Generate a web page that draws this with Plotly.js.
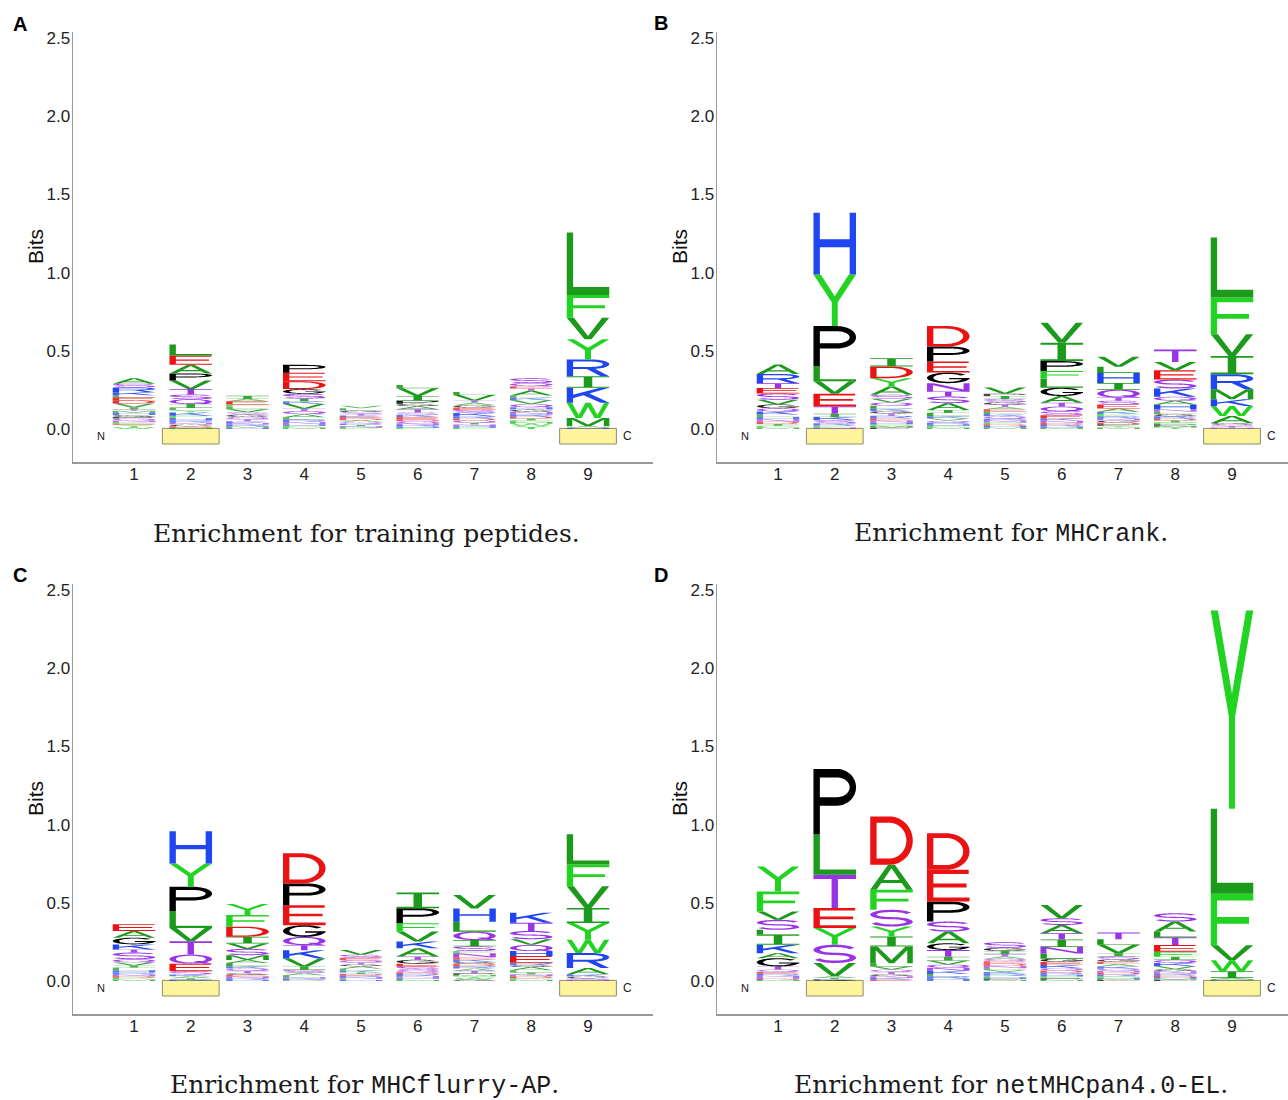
<!DOCTYPE html>
<html><head><meta charset="utf-8">
<script src="https://cdn.plot.ly/plotly-3.0.1.min.js"></script>
<style>html,body{margin:0;padding:0;background:#fff}</style>
</head><body><div id="chart" style="width:1288px;height:1100px"></div>
<script>
// ---------------- DATA (letters listed top -> bottom, heights in bits) ----------------
const positions = [1,2,3,4,5,6,7,8,9];
const anchorPositions = [2, 9];
const yTickVals = [0, 0.5, 1.0, 1.5, 2.0, 2.5];
const yTickText = ['0.0','0.5','1.0','1.5','2.0','2.5'];
const panelLabels = ['A','B','C','D'];
const yTitle = 'Bits';
const panelTitles = [
  'Enrichment for training peptides.',
  'Enrichment for <span style="font-family:Liberation Mono">MHCrank</span>.',
  'Enrichment for <span style="font-family:Liberation Mono">MHCflurry-AP</span>.',
  'Enrichment for <span style="font-family:Liberation Mono">netMHCpan4.0-EL</span>.'
];

const lettersA = ["ASRKLEDVITMHGPQNFEYW","LEAPVTSQILYKFHRNGDM","IAEFLVSGQTKNRMH","PEDGSIKVTQALRNHFM","VLGSTKEDAQRINF","LVIPGATSKEDQNRHF","LVTAGESKRDQINHF","SQETALKVQHGNRDIFMWY","LFVYRIKWMAH"];
const heightsA = [
  [.035,.025,.03,.02,.012,.02,.02,.025,.012,.01,.012,.015,.012,.01,.012,.01,.01,.008,.015,.012],
  [.07,.06,.055,.045,.055,.035,.03,.03,.025,.015,.015,.02,.015,.015,.015,.012,.01,.01,.008],
  [.02,.015,.02,.015,.015,.02,.015,.015,.015,.012,.012,.01,.01,.01,.008],
  [.05,.055,.05,.03,.03,.02,.015,.03,.015,.02,.02,.015,.015,.015,.01,.01,.01],
  [.015,.015,.01,.012,.01,.01,.01,.01,.012,.01,.008,.008,.01,.008],
  [.02,.05,.03,.02,.015,.02,.02,.015,.015,.015,.01,.015,.01,.01,.008,.008],
  [.02,.035,.015,.015,.015,.015,.02,.02,.015,.012,.015,.012,.01,.01,.008],
  [.03,.02,.015,.015,.03,.015,.015,.025,.02,.015,.015,.015,.015,.012,.012,.01,.01,.015,.02],
  [.40,.145,.138,.128,.107,.075,.096,.096,.053,.01,.008]
];
const lettersB = ["ARTESVGQKLHNDIFM","HYPLVETIKSRFN","IDYASVQLKGTRENHFMP","DPEGNTSAILKVQRHFM","VPISGTAELKQRNFDHM","VIPFLGATQSEKNDRHM","VLHIQTSEAKFRNGDPYM","TVESKQAHNLGRDIFPMY","LFVIRMKWAGSTN"];
const heightsB = [
  [.06,.06,.03,.035,.04,.03,.025,.02,.02,.015,.015,.015,.015,.012,.01,.01],
  [.394,.33,.256,.096,.081,.079,.049,.02,.02,.02,.015,.012,.01],
  [.053,.075,.053,.053,.025,.025,.02,.02,.015,.015,.015,.015,.015,.012,.012,.01,.01,.01],
  [.132,.096,.07,.068,.053,.032,.043,.043,.02,.02,.015,.015,.012,.01,.01,.01,.01],
  [.04,.015,.02,.02,.015,.015,.015,.015,.015,.015,.015,.012,.012,.012,.01,.01,.01],
  [.128,.117,.064,.049,.057,.053,.043,.025,.03,.025,.02,.015,.015,.012,.01,.008,.008],
  [.064,.04,.064,.043,.05,.02,.025,.025,.02,.015,.015,.015,.012,.012,.012,.01,.01,.01],
  [.079,.053,.06,.057,.053,.025,.025,.03,.015,.015,.015,.015,.012,.012,.012,.01,.01,.01],
  [.384,.235,.139,.117,.096,.064,.043,.064,.045,.01,.01,.01,.008]
];
const lettersC = ["EAGKTSQVILHRNDFM","HYPLVTQESKAIR","YFDIVSMALKQTGENRH","DPEGQTKVISALNRF","VSEQTGALKIDRNFH","IPFVKATGESQDRNHLM","VHLQISFNEKGDRATPMYWG","KTSVQHERGALINDFM","LFVIYWRAKGSN"];
const heightsC = [
  [.043,.043,.043,.032,.02,.043,.02,.02,.015,.015,.015,.012,.012,.01,.01,.01],
  [.207,.149,.156,.107,.085,.085,.058,.049,.02,.012,.012,.01,.008],
  [.07,.075,.064,.043,.035,.04,.03,.02,.02,.015,.015,.015,.01,.012,.01,.01,.008],
  [.192,.139,.128,.075,.053,.032,.053,.053,.02,.02,.015,.012,.01,.01,.004],
  [.03,.02,.015,.015,.012,.012,.015,.012,.012,.01,.01,.01,.01,.008,.007],
  [.1,.096,.053,.064,.043,.053,.02,.025,.02,.02,.015,.012,.012,.01,.008,.008,.006],
  [.085,.085,.064,.053,.04,.03,.015,.025,.015,.015,.012,.015,.015,.015,.015,.01,.01,.01,.01,.01],
  [.064,.053,.053,.036,.04,.032,.043,.015,.012,.02,.015,.012,.012,.012,.01,.008],
  [.193,.139,.139,.096,.107,.085,.096,.04,.015,.01,.01,.008]
];
const lettersD = ["YFVSLIKAGTQERNHDM","PLTEYSVAIKG","DAFSYIMLVQTGNKE","DEPSAGTIVQNKLRH","SGITAQEDNLVKRFHPM","VSATINLGEKQDRHFPM","TLVISGEAKQNDRFHMP","SALTEFIQKVGNRDHMP","YLFVWIAMK"];
const heightsD = [
  [.16,.128,.053,.064,.032,.064,.053,.032,.053,.02,.015,.012,.012,.01,.01,.008,.006],
  [.42,.256,.213,.128,.107,.117,.085,.01,.008,.006,.006],
  [.309,.16,.128,.107,.064,.064,.107,.02,.02,.015,.015,.012,.012,.01,.009],
  [.234,.203,.128,.064,.075,.043,.043,.025,.025,.02,.02,.02,.015,.015,.015],
  [.036,.02,.02,.015,.015,.015,.015,.015,.015,.012,.012,.012,.012,.01,.008,.008,.008],
  [.085,.043,.053,.04,.047,.043,.032,.021,.02,.02,.015,.015,.012,.012,.01,.01,.008],
  [.043,.036,.053,.02,.02,.015,.015,.015,.015,.012,.012,.012,.01,.01,.008,.008,.006],
  [.053,.064,.036,.05,.043,.032,.02,.02,.02,.02,.012,.015,.012,.01,.01,.008,.008],
  [1.268,.543,.33,.096,.07,.043,.008,.006,.005]
];
const panelLetters = [lettersA, lettersB, lettersC, lettersD];
const panelHeights = [heightsA, heightsB, heightsC, heightsD];

// ---------------- STYLE ----------------
const DKG='#1c9a1c', LTG='#22d322', BLU='#1f46f0', RED='#ea1212', BLK='#000000', PUR='#9a33e6';
const letterColor = {A:DKG,I:DKG,L:DKG,M:DKG,V:DKG,F:LTG,W:LTG,Y:LTG,H:BLU,K:BLU,R:BLU,D:RED,E:RED,P:BLK,G:BLK,C:BLK,S:PUR,T:PUR,N:PUR,Q:PUR};
const W=1288, H=1100;
const LETTER_W = 0.75;

// ---------------- GLYPHS (unit box) ----------------
const T=0.15, S=0.13, PI=Math.PI;
function rect(x0,y0,x1,y1){return [[x0,y0],[x1,y0],[x1,y1],[x0,y1]];}
function arc(cx,cy,rx,ry,a0,a1,n){const p=[];for(let i=0;i<=n;i++){const a=a0+(a1-a0)*i/n;p.push([cx+rx*Math.cos(a),cy+ry*Math.sin(a)]);}return p;}
function area(p){let s=0;for(let i=0;i<p.length;i++){const a=p[i],b=p[(i+1)%p.length];s+=a[0]*b[1]-b[0]*a[1];}return s/2;}
function orient(p,ccw){return ((area(p)>0)===ccw)?p:p.slice().reverse();}
function stroke(c,hx,hy){const L=[],R=[];for(let i=0;i<c.length;i++){const a=c[Math.max(0,i-1)],b=c[Math.min(c.length-1,i+1)];let tx=b[0]-a[0],ty=b[1]-a[1];const l=Math.hypot(tx,ty)||1;tx/=l;ty/=l;const nx=-ty,ny=tx;L.push([c[i][0]+nx*hx,c[i][1]+ny*hy]);R.push([c[i][0]-nx*hx,c[i][1]-ny*hy]);}return L.concat(R.reverse());}
function bowl(y0,y1,xc){const cy=(y0+y1)/2,ry=(y1-y0)/2,rx=1-xc;
  const outer=[[0,y1],[xc,y1]].concat(arc(xc,cy,rx,ry,PI/2,-PI/2,28)).concat([[xc,y0],[0,y0]]);
  const inner=[[T,y1-S],[xc,y1-S]].concat(arc(xc,cy,rx-T,ry-S,PI/2,-PI/2,28)).concat([[xc,y0+S],[T,y0+S]]);
  return [outer,inner];}
function ring(a0,a1){const o=arc(0.5,0.5,0.5,0.5,a0,a1,48),i=arc(0.5,0.5,0.5-T,0.5-S,a0,a1,48);return o.concat(i.reverse());}
const glyph = {};
glyph.H={s:[rect(0,0,T,1),rect(1-T,0,1,1),rect(T-0.01,0.44,1-T+0.01,0.57)],h:[]};
glyph.L={s:[rect(0,0,T,1),rect(0,0,1,S)],h:[]};
glyph.E={s:[rect(0,0,T,1),rect(0,0,1,S),rect(0,0.44,0.93,0.44+S),rect(0,1-S,0.98,1)],h:[]};
glyph.F={s:[rect(0,0,T,1),rect(0,1-S,1,1),rect(0,0.42,0.9,0.42+S)],h:[]};
glyph.T={s:[rect(0,1-S,1,1),rect(0.425,0,0.575,1)],h:[]};
glyph.I={s:[rect(0,0.9,1,1),rect(0,0,1,0.1),rect(0.4,0,0.6,1)],h:[]};
glyph.V={s:[[[0,1],[0.17,1],[0.5,0.16],[0.83,1],[1,1],[0.58,0],[0.42,0]]],h:[]};
glyph.Y={s:[[[0,1],[0.17,1],[0.5,0.58],[0.83,1],[1,1],[0.57,0.46],[0.57,0],[0.43,0],[0.43,0.46]]],h:[]};
glyph.W={s:[[[0,1],[0.12,1],[0.28,0.2],[0.44,1],[0.56,1],[0.72,0.2],[0.88,1],[1,1],[0.79,0],[0.65,0],[0.5,0.72],[0.35,0],[0.21,0]]],h:[]};
glyph.M={s:[[[0,0],[0.13,0],[0.13,0.78],[0.44,0],[0.56,0],[0.87,0.78],[0.87,0],[1,0],[1,1],[0.83,1],[0.5,0.2],[0.17,1],[0,1]]],h:[]};
glyph.N={s:[[[0,0],[0.14,0],[0.14,0.76],[0.84,0],[1,0],[1,1],[0.86,1],[0.86,0.24],[0.16,1],[0,1]]],h:[]};
glyph.A={s:[[[0,0],[0.15,0],[0.26,0.27],[0.74,0.27],[0.85,0],[1,0],[0.58,1],[0.42,1]]],h:[[[0.31,0.39],[0.69,0.39],[0.5,0.86]]]};
glyph.K={s:[rect(0,0,T,1),[[0.1,0.28],[1,1],[0.78,1],[0.1,0.5]],[[0.38,0.52],[0.8,0],[1,0],[0.52,0.64]]],h:[]};
(function(){const b=bowl(0.44,1,0.55);glyph.P={s:[rect(0,0,T,1),b[0]],h:[b[1]]};})();
(function(){const b=bowl(0.42,1,0.55);glyph.R={s:[rect(0,0,T,1),b[0],[[0.45,0.46],[0.8,0],[1,0],[0.65,0.46]]],h:[b[1]]};})();
(function(){const b=bowl(0,1,0.45);glyph.D={s:[b[0]],h:[b[1]]};})();
glyph.O={s:[arc(0.5,0.5,0.5,0.5,0,2*PI,60)],h:[arc(0.5,0.5,0.5-T,0.5-S,0,2*PI,60)]};
glyph.Q={s:[arc(0.5,0.5,0.5,0.5,0,2*PI,60),[[0.55,0.3],[0.75,0.3],[1.0,0],[0.8,0]]],h:[arc(0.5,0.5,0.5-T,0.5-S,0,2*PI,60)]};
glyph.C={s:[ring(0.22*PI,1.78*PI)],h:[]};
glyph.G={s:[ring(0.2*PI,1.95*PI),rect(0.52,0.36,1,0.49)],h:[]};
(function(){const up=arc(0.5,0.7175,0.425,0.2175,0.1*PI,1.5*PI,40);const lo=arc(0.5,0.2825,0.425,0.2175,0.5*PI,-0.9*PI,40);
  glyph.S={s:[stroke(up.concat(lo.slice(1)),0.075,0.065)],h:[]};})();

function letterPath(ch,xc,y0,w,h){
  const g=glyph[ch]; let d='';
  const add=(p)=>{p.forEach((q,i)=>{d+=(i?'L':'M')+(xc+(q[0]-0.5)*w).toFixed(4)+','+(y0+q[1]*h).toFixed(5);});d+='Z';};
  g.s.forEach(p=>add(orient(p,true)));
  g.h.forEach(p=>add(orient(p,false)));
  return d;
}

// ---------------- LAYOUT ----------------
const xDom=[[73/W,653/W],[717/W,1]];
const yDom=[[1-462/H,1-32/H],[1-1014/H,1-584/H]];
const xRanges=[[-0.075,10.145],[-0.075,9.987]];
const yRange=[-0.211,2.538];
const layout={width:W,height:H,margin:{l:0,r:0,t:0,b:0},paper_bgcolor:'#fff',plot_bgcolor:'rgba(0,0,0,0)',showlegend:false,shapes:[],annotations:[]};
const data=[];
const SANS='Liberation Sans, Arial, sans-serif';
const tickFont={family:SANS,size:17,color:'#222'};
const labelPos=[[20,24],[661,23],[20,575],[661,575]];
const titlePos=[[366,533],[1011,533],[364,1085],[1011,1085]];
const bitsPos=[[35,247],[679,247],[35,799],[679,799]];

for(let p=0;p<4;p++){
  const col=p%2,row=Math.floor(p/2),k=p+1;
  const xa='xaxis'+(k===1?'':k), ya='yaxis'+(k===1?'':k);
  const xr='x'+(k===1?'':k), yr='y'+(k===1?'':k);
  layout[xa]={domain:xDom[col],range:xRanges[col],anchor:yr,tickvals:positions,ticktext:positions.map(String),showline:true,linecolor:'#9a9a9a',linewidth:1.5,showgrid:false,zeroline:false,ticks:'',tickfont:tickFont,ticklabelstandoff:-4,fixedrange:true};
  layout[ya]={domain:yDom[row],range:yRange,anchor:xr,tickvals:yTickVals,ticktext:yTickText,showline:true,linecolor:'#9a9a9a',linewidth:1.5,showgrid:false,zeroline:false,ticks:'',tickfont:tickFont,ticklabelstandoff:-2,fixedrange:true};
  const letters=panelLetters[p], heights=panelHeights[p];
  const totals=[];
  positions.forEach((pos,i)=>{
    const chars=letters[i].split('').reverse(), hs=heights[i].slice().reverse();
    let y=0;
    chars.forEach((ch,j)=>{
      const h=hs[j];
      layout.shapes.push({type:'path',xref:xr,yref:yr,path:letterPath(ch,pos,y,LETTER_W,h),fillcolor:letterColor[ch],opacity:h<0.02?0.72:(h<0.03?0.88:1),line:{width:0},fillrule:'nonzero',layer:'above'});
      y+=h;
    });
    totals.push(y);
  });
  data.push({type:'scatter',mode:'markers',x:positions,y:totals,xaxis:xr,yaxis:yr,marker:{opacity:0,size:4},hoverinfo:'x+y'});
  anchorPositions.forEach(a=>{
    layout.shapes.push({type:'rect',xref:xr,yref:yr,x0:a-0.5,x1:a+0.5,y0:-0.096,y1:0.004,fillcolor:'#fdf49c',line:{color:'#8c8c70',width:1},layer:'below'});
  });
  layout.annotations.push({xref:xr,yref:yr,x:0.41,y:-0.045,text:'N',showarrow:false,font:{family:SANS,size:11,color:'#222'}});
  layout.annotations.push({xref:xr,yref:yr,x:9.7,y:-0.045,text:'C',showarrow:false,font:{family:SANS,size:12,color:'#222'}});
  layout.annotations.push({xref:'paper',yref:'paper',x:bitsPos[p][0]/W,y:1-bitsPos[p][1]/H,xanchor:'center',yanchor:'middle',textangle:-90,text:yTitle,showarrow:false,font:{family:SANS,size:21,color:'#111'}});
  layout.annotations.push({xref:'paper',yref:'paper',x:labelPos[p][0]/W,y:1-labelPos[p][1]/H,xanchor:'center',yanchor:'middle',text:'<b>'+panelLabels[p]+'</b>',showarrow:false,font:{family:SANS,size:20,color:'#000'}});
  layout.annotations.push({xref:'paper',yref:'paper',x:titlePos[p][0]/W,y:1-titlePos[p][1]/H,xanchor:'center',yanchor:'middle',text:panelTitles[p],showarrow:false,font:{family:'DejaVu Serif, serif',size:25,color:'#1a1a1a'}});
}
Plotly.newPlot('chart',data,layout,{displayModeBar:false,staticPlot:true});
</script></body></html>
